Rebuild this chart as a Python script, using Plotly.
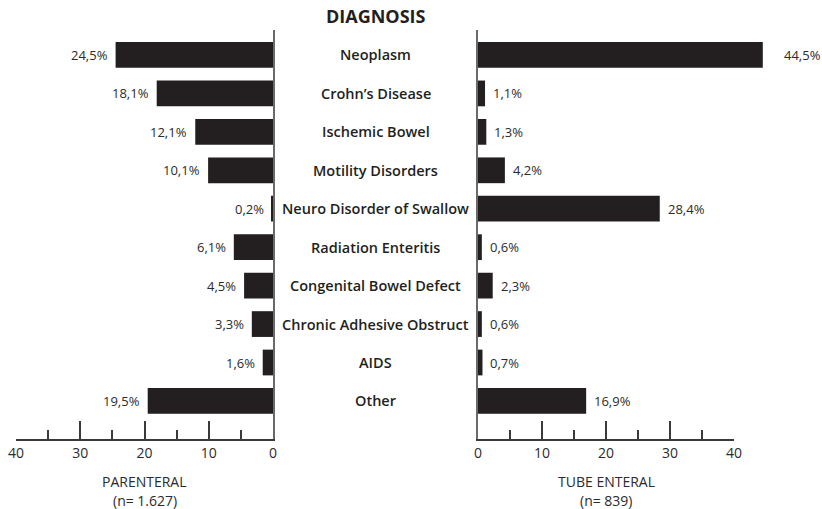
import plotly.graph_objects as go

# Diagnosis categories, top to bottom
categories = [
    "Neoplasm", "Crohn’s Disease", "Ischemic Bowel", "Motility Disorders",
    "Neuro Disorder of Swallow", "Radiation Enteritis", "Congenital Bowel Defect",
    "Chronic Adhesive Obstruct", "AIDS", "Other",
]
# Share of patients (%) per diagnosis
parenteral = [24.5, 18.1, 12.1, 10.1, 0.2, 6.1, 4.5, 3.3, 1.6, 19.5]
tube_enteral = [44.5, 1.1, 1.3, 4.2, 28.4, 0.6, 2.3, 0.6, 0.7, 16.9]
tick_values = [0, 10, 20, 30, 40]

FONT = "Open Sans"
INK = "#231f20"
TEXT = "#2b2b2b"
BAR = "#231f20"
AXIS = "#3a3a3a"

W, H = 822, 509
LEFT_PX = (16, 273)     # pixel span of the left axis (40 .. 0)
RIGHT_PX = (478, 734)   # pixel span of the right axis (0 .. 40)
TOP_PX, BOTTOM_PX = 30, 439
AXIS_MAX = tick_values[-1]
LABEL_GAP = 6           # px between a bar end and its value label


def pct(v):
    return f"{v:.1f}%".replace(".", ",")


ydom = [(H - BOTTOM_PX) / H, (H - TOP_PX) / H]

# The right-hand bars share the scale of the 0..40 axis but may run past it,
# so they live on an invisible overlay axis that extends to the page edge.
px_per_unit = (RIGHT_PX[1] - RIGHT_PX[0]) / AXIS_MAX
overlay_max = (W - RIGHT_PX[0]) / px_per_unit

fig = go.Figure()

bar_style = dict(
    orientation="h", marker=dict(color=BAR, line=dict(width=0)), width=0.67,
    showlegend=False, hoverinfo="skip",
)

fig.add_trace(go.Bar(x=parenteral, y=categories, xaxis="x", yaxis="y", **bar_style))
fig.add_trace(go.Bar(x=tube_enteral, y=categories, xaxis="x3", yaxis="y2", **bar_style))
# Empty trace so the visible right axis is drawn
fig.add_trace(go.Scatter(x=[], y=[], xaxis="x2", yaxis="y2", showlegend=False))

common_x = dict(
    showgrid=False, zeroline=False, showline=True, linecolor=AXIS, linewidth=1.5,
    ticks="inside", ticklen=18, tickwidth=1.5, tickcolor=AXIS,
    tickmode="array", tickvals=tick_values, ticktext=[str(t) for t in tick_values],
    tickfont=dict(family=FONT, size=14, color=TEXT),
    minor=dict(dtick=5, tick0=0, ticks="inside", ticklen=9, tickwidth=1.5,
               tickcolor=AXIS, showgrid=False),
    fixedrange=True, automargin=False,
)
common_y = dict(
    type="category", categoryorder="array", categoryarray=categories,
    range=[9.99, -0.65], showgrid=False, zeroline=False, showline=True,
    linecolor="#6a6a6a", linewidth=1.5, showticklabels=False, ticks="",
    fixedrange=True, automargin=False,
)

fig.update_layout(
    width=W, height=H,
    margin=dict(l=0, r=0, t=0, b=0, autoexpand=False),
    paper_bgcolor="white", plot_bgcolor="rgba(0,0,0,0)",
    font=dict(family=FONT, color=INK),
    xaxis=dict(domain=[LEFT_PX[0] / W, LEFT_PX[1] / W], range=[AXIS_MAX, 0],
               anchor="y", **common_x),
    yaxis=dict(domain=ydom, anchor="x", side="right", **common_y),
    xaxis2=dict(domain=[RIGHT_PX[0] / W, RIGHT_PX[1] / W], range=[0, AXIS_MAX],
                anchor="y2", **common_x),
    yaxis2=dict(domain=ydom, anchor="x2", side="left", **common_y),
    xaxis3=dict(domain=[RIGHT_PX[0] / W, 1.0], range=[0, overlay_max], anchor="y2",
                visible=False, fixedrange=True, automargin=False),
)

value_font = dict(family=FONT, size=13, color=TEXT)

# Value labels: left panel text sits left of each bar end
for c, v in zip(categories, parenteral):
    fig.add_annotation(
        x=v, y=c, xref="x", yref="y", text=pct(v), showarrow=False,
        xanchor="right", yanchor="middle", xshift=-LABEL_GAP, font=value_font,
    )
# Right panel text sits right of each bar end; the longest bar's label is set further out
longest = max(tube_enteral)
for c, v in zip(categories, tube_enteral):
    gap = LABEL_GAP + (13 if v == longest else 0)
    fig.add_annotation(
        x=v, y=c, xref="x3", yref="y2", text=pct(v), showarrow=False,
        xanchor="left", yanchor="middle", xshift=gap, font=value_font,
    )

# Diagnosis names between the two panels
center_x = (LEFT_PX[1] + RIGHT_PX[0]) / 2 / W
for c in categories:
    fig.add_annotation(
        x=center_x, y=c, xref="paper", yref="y", text=c,
        showarrow=False, xanchor="center", yanchor="middle",
        font=dict(family=FONT, size=14.5, color=INK, weight=600),
    )

fig.add_annotation(
    x=center_x, y=1 - 16 / H, xref="paper", yref="paper", text="DIAGNOSIS",
    showarrow=False, xanchor="center", yanchor="middle",
    font=dict(family=FONT, size=18, color=INK, weight=700),
)

# Group labels under each axis
for xref, name, n in [("x domain", "PARENTERAL", "(n= 1.627)"),
                      ("x2 domain", "TUBE ENTERAL", "(n= 839)")]:
    fig.add_annotation(
        x=0.5, y=1 - 481 / H, xref=xref, yref="paper", text=name,
        showarrow=False, xanchor="center", yanchor="middle",
        font=dict(family=FONT, size=14, color=TEXT),
    )
    fig.add_annotation(
        x=0.5, y=1 - 500 / H, xref=xref, yref="paper", text=n,
        showarrow=False, xanchor="center", yanchor="middle",
        font=dict(family=FONT, size=14, color=TEXT),
    )

fig.write_html("out.html")
